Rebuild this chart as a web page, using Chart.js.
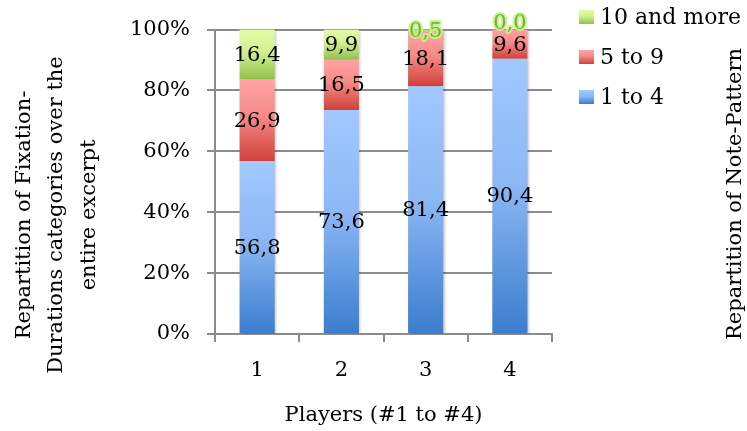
<!DOCTYPE html>
<html>
<head>
<meta charset="utf-8">
<script src="https://cdn.jsdelivr.net/npm/chart.js@4/dist/chart.umd.min.js"></script>
<style>
  html, body { margin: 0; padding: 0; background: #ffffff; }
  #wrap { width: 747px; height: 431px; position: relative; }
</style>
</head>
<body>
<div id="wrap"><canvas id="c" width="747" height="431"></canvas></div>
<script>
// Players on the x axis
const categories = ['1', '2', '3', '4'];
// Share (%) of fixation durations per category, for each player
const oneToFour  = [56.8, 73.6, 81.4, 90.4];
const fiveToNine = [26.9, 16.5, 18.1, 9.6];
const tenAndMore = [16.4, 9.9, 0.5, 0.0];
const seriesNames = ['1 to 4', '5 to 9', '10 and more'];
const yTickValues = [0, 20, 40, 60, 80, 100];

const FONT = "'DejaVu Serif', 'Liberation Serif', serif";
const AXIS_GREY = '#8c8c8c';

// light-top / dark-bottom fills for each series
const fills = [
  ['#a2c8ff', '#8cb8f4', '#3a7dcf'],
  ['#ffa3a3', '#f48a88', '#d2403a'],
  ['#e4fda6', '#d2ef90', '#90c24c']
];

function gradient(ctx, top, bottom, stops) {
  if (bottom - top < 1) bottom = top + 1;
  const g = ctx.createLinearGradient(0, top, 0, bottom);
  g.addColorStop(0, stops[0]);
  g.addColorStop(0.45, stops[1]);
  g.addColorStop(1, stops[2]);
  return g;
}

function segmentFill(c) {
  const stops = fills[c.datasetIndex];
  const chart = c.chart;
  if (!chart.chartArea || c.type !== 'data') return stops[1];
  const y = chart.scales.y;
  let cum = 0;
  for (let d = 0; d <= c.datasetIndex; d++) cum += chart.data.datasets[d].data[c.dataIndex];
  const v = chart.data.datasets[c.datasetIndex].data[c.dataIndex];
  return gradient(chart.ctx, y.getPixelForValue(cum), y.getPixelForValue(cum - v), stops);
}

// soft drop shadow under each bar segment
const barShadow = {
  id: 'barShadow',
  beforeDatasetDraw(chart) {
    const ctx = chart.ctx;
    ctx.save();
    ctx.shadowColor = 'rgba(0,0,0,0.28)';
    ctx.shadowBlur = 3;
    ctx.shadowOffsetX = 1.5;
    ctx.shadowOffsetY = 1;
  },
  afterDatasetDraw(chart) { chart.ctx.restore(); }
};

// value written in the middle of every segment
const segmentLabels = {
  id: 'segmentLabels',
  afterDatasetsDraw(chart) {
    const ctx = chart.ctx;
    ctx.save();
    ctx.textAlign = 'center';
    ctx.textBaseline = 'middle';
    chart.data.datasets.forEach((ds, di) => {
      const meta = chart.getDatasetMeta(di);
      meta.data.forEach((bar, i) => {
        const v = ds.data[i];
        const p = bar.getProps(['x', 'y', 'base'], true);
        const h = Math.abs(p.base - p.y);
        let cy = (p.y + p.base) / 2 + 1;
        const text = v.toFixed(1).replace('.', ',');
        ctx.font = '21px ' + FONT;
        if (h < 4) {
          // tiny segment: highlighted label sitting on top of the bar
          if (h < 1) cy -= 7;
          ctx.lineJoin = 'round';
          ctx.lineWidth = 4;
          ctx.strokeStyle = 'rgba(200,240,140,0.95)';
          ctx.strokeText(text, p.x, cy);
          ctx.fillStyle = '#6db633';
          ctx.fillText(text, p.x, cy);
        } else {
          ctx.fillStyle = '#000000';
          ctx.fillText(text, p.x, cy);
        }
      });
    });
    ctx.restore();
  }
};

// axis titles and legend
const decorations = {
  id: 'decorations',
  afterDraw(chart) {
    const ctx = chart.ctx;
    const area = chart.chartArea;
    ctx.save();
    ctx.fillStyle = '#000000';
    ctx.font = '21px ' + FONT;

    // x title
    ctx.textAlign = 'center';
    ctx.textBaseline = 'middle';
    ctx.fillText('Players (#1 to #4)', (area.left + area.right) / 2, 416);

    // y title (three lines, rotated)
    const yLines = ['Repartition of Fixation-', 'Durations categories over the', 'entire excerpt'];
    const baselines = [30, 62, 95];
    ctx.textBaseline = 'alphabetic';
    yLines.forEach((t, k) => {
      ctx.save();
      ctx.translate(baselines[k], 215);
      ctx.rotate(-Math.PI / 2);
      ctx.fillText(t, 0, 0);
      ctx.restore();
    });

    // second panel's y title, clipped by the right edge
    ctx.save();
    ctx.translate(741, 194);
    ctx.rotate(-Math.PI / 2);
    ctx.fillText('Repartition of Note-Pattern', 0, 0);
    ctx.restore();

    // legend, top entry is the last series
    const rows = [
      { name: seriesNames[2], stops: fills[2], y: 17 },
      { name: seriesNames[1], stops: fills[1], y: 57 },
      { name: seriesNames[0], stops: fills[0], y: 97 }
    ];
    ctx.font = '22px ' + FONT;
    ctx.textAlign = 'left';
    ctx.textBaseline = 'middle';
    rows.forEach(r => {
      const top = r.y - 7, size = 14;
      ctx.fillStyle = gradient(ctx, top, top + size, r.stops);
      ctx.fillRect(579, top, 15, size);
      ctx.fillStyle = '#000000';
      ctx.fillText(r.name, 600, r.y + 1);
    });
    ctx.restore();
  }
};

new Chart(document.getElementById('c'), {
  type: 'bar',
  data: {
    labels: categories,
    datasets: [
      { label: seriesNames[0], data: oneToFour,  backgroundColor: segmentFill },
      { label: seriesNames[1], data: fiveToNine, backgroundColor: segmentFill },
      { label: seriesNames[2], data: tenAndMore, backgroundColor: segmentFill }
    ]
  },
  options: {
    responsive: false,
    animation: false,
    devicePixelRatio: 1,
    layout: { padding: { left: 0, right: 195, top: 26, bottom: 0 } },
    datasets: { bar: { categoryPercentage: 1, barPercentage: 0.417, borderWidth: 0 } },
    plugins: {
      legend: { display: false },
      tooltip: { enabled: false },
      title: { display: false }
    },
    scales: {
      x: {
        stacked: true,
        afterFit(s) { s.height = 97; },
        grid: { display: true, drawOnChartArea: false, drawTicks: true, tickLength: 8, color: AXIS_GREY, lineWidth: 2, offset: true },
        border: { display: true, color: AXIS_GREY, width: 2 },
        ticks: { color: '#000000', font: { family: FONT, size: 21 }, padding: 16 }
      },
      y: {
        stacked: true,
        min: 0,
        max: 100,
        afterFit(s) { s.width = 215; },
        afterBuildTicks(s) { s.ticks = yTickValues.map(v => ({ value: v })); },
        grid: { color: AXIS_GREY, lineWidth: 2, drawTicks: true, tickLength: 8 },
        border: { display: true, color: AXIS_GREY, width: 2 },
        ticks: {
          color: '#000000',
          font: { family: FONT, size: 21 },
          padding: 17,
          callback: v => v + '%'
        }
      }
    }
  },
  plugins: [barShadow, segmentLabels, decorations]
});
</script>
</body>
</html>
